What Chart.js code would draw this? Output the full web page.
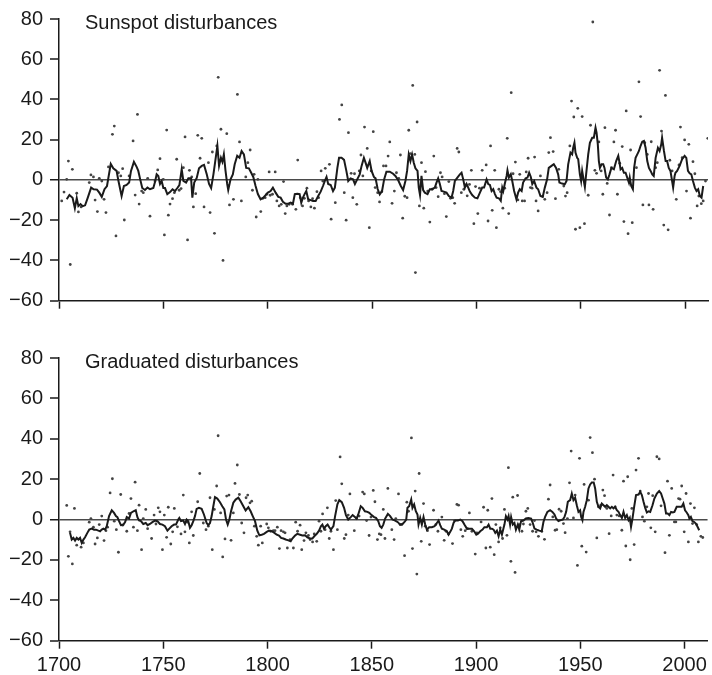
<!DOCTYPE html>
<html>
<head>
<meta charset="utf-8">
<script src="https://cdn.jsdelivr.net/npm/chart.js@4.4.1/dist/chart.umd.min.js"></script>
<style>
  html, body { margin: 0; padding: 0; background: #fff; }
  #wrap { position: relative; width: 712px; height: 675px; }
  canvas { position: absolute; left: 0; }
  #topChart { top: 0; }
  #bottomChart { top: 330px; }
</style>
</head>
<body>
<div id="wrap">
  <canvas id="topChart" width="712" height="330"></canvas>
  <canvas id="bottomChart" width="712" height="345"></canvas>
</div>
<script>
// year ticks shared by both panels
const yearTicks = [1700, 1750, 1800, 1850, 1900, 1950, 2000];
const valueTicks = [-60, -40, -20, 0, 20, 40, 60, 80];

// sunspot disturbances: yearly values [year, value]
const sunspotDots = [
  [1701.3,-10.4],[1702.4,-6],[1703.7,0.3],[1704.5,9.4],[1705.4,-42],[1706.4,5.3],[1708.5,-6.6],[1709.3,-15.9],
  [1710.6,-13.4],[1714.5,-1.3],[1715.3,2.5],[1716.5,1.5],[1717.3,-10],[1718.4,-15.7],[1719.3,0.8],[1720.5,-0.5],
  [1721.6,-9.6],[1722.5,-16.2],[1723.7,6.5],[1725.6,22.7],[1726.5,26.8],[1727.3,-27.8],[1728.5,3.6],[1729.6,2],
  [1730.5,5.6],[1731.3,-19.9],[1733.6,2],[1735.5,19.4],[1736.5,-7.5],[1737.6,32.6],[1738.4,-12],[1739.6,-5.5],
  [1740.4,-6.3],[1742.5,0.8],[1743.6,-18],[1746,-0.5],[1747.3,5],[1748.4,10.6],[1750,0.3],[1750.5,-27.3],
  [1751.6,24.8],[1752.4,-17.5],[1753.2,-12],[1754.4,-9.3],[1755.3,-6.3],[1756.4,10.3],[1757.6,-5.1],[1758.5,-4.3],
  [1759.6,6.1],[1760.4,21.4],[1761.6,-29.8],[1762.5,4.8],[1763.6,1.5],[1764.4,-13.4],[1765.5,-6.8],[1766.5,22.2],
  [1767.6,10.8],[1768.4,20.7],[1769.5,-13.4],[1771.6,8.6],[1772.4,-16.2],[1773.5,13.9],[1774.5,-26.5],[1775.6,16.9],
  [1776.3,51],[1777.6,25.2],[1778.6,-40],[1780.4,23],[1781.7,-12.4],[1783.6,-9.6],[1785.5,42.5],[1786.5,18.9],
  [1787.4,-10.4],[1789.5,1.5],[1790.5,8.6],[1791.6,14.9],[1792.7,-5.1],[1793.5,2.8],[1794.5,-18.4],[1795.3,0.3],
  [1796.7,-15.7],[1797.7,-9.1],[1798.8,-8.8],[1799.6,-7.1],[1800.7,4],[1801.2,-7.6],[1802.3,-7.1],[1803.6,4],
  [1804.4,-10.4],[1805.5,-12.9],[1806.5,-12.1],[1807.6,-0.8],[1808.4,-16.7],[1809.2,-12.9],[1810.3,-12.1],[1811.9,-12.1],
  [1813.5,-14.6],[1814.4,9.9],[1815.6,-8.8],[1816.7,-12.9],[1817.6,-9.1],[1818.8,-4.1],[1819.6,-10.4],[1820.7,-13.4],
  [1821.5,-9.3],[1822.4,-14],[1823.6,-5.8],[1824.4,-8.8],[1825.6,4.5],[1826.4,-0.5],[1827.6,5.8],[1829.6,7.8],
  [1830.4,-19.5],[1832.4,-11.3],[1834.4,30.1],[1835.5,37.3],[1836.7,-6.3],[1837.6,-20],[1838.7,23.5],[1840,3.3],
  [1840.8,-8.8],[1841.6,3.1],[1842.7,-12.1],[1843.9,4.5],[1844.7,12.4],[1845.6,2],[1846.4,26.3],[1847.7,15.7],
  [1848.7,-23.7],[1849.6,4.5],[1850.6,24],[1851.5,-3.8],[1852.7,-6.3],[1853.6,-10.9],[1854.7,-5.8],[1855.5,7],
  [1856.7,7],[1857.7,11.9],[1858.5,18.9],[1859.6,-11.6],[1860.7,-5.5],[1861.7,3.6],[1862.8,0.8],[1863.6,12.4],
  [1864.7,-19],[1865.7,-8.1],[1866.8,-8.8],[1867.6,24.7],[1868.4,13.1],[1869.5,47],[1870.5,12.7],[1870.8,-46],
  [1871.6,28.8],[1872.7,-12.9],[1873.7,8.6],[1874.8,-14],[1875.6,4.1],[1876.7,-5.5],[1877.7,-20.9],[1878.8,-4.6],
  [1879.6,11.9],[1880.7,-3.8],[1881.7,-8.3],[1882.8,3.6],[1883.6,1.5],[1884.7,-6.8],[1885.6,-18.2],[1886.8,-0.8],
  [1887.6,-9.1],[1888.7,-8.8],[1889.6,-11.6],[1890.8,15.7],[1891.6,13.9],[1892.8,-6.3],[1894,-4.6],[1894.8,-2.5],
  [1895.6,-7.9],[1896.7,-2.2],[1897.6,4.8],[1898.8,-21.7],[1899.6,-3.3],[1900.7,-16.7],[1901.5,-4.1],[1902.8,4.8],
  [1904.7,7.5],[1905.6,-20.4],[1906.8,16.9],[1907.6,-15.1],[1908.8,4.8],[1909.6,-23.7],[1910.8,-4.6],[1911.6,-5.8],
  [1912.7,-14],[1913.6,-4.1],[1914.8,20.7],[1915.5,-16.7],[1916.7,43.4],[1917.6,3.1],[1918.7,8.9],[1919.9,-9.9],
  [1920.8,2.8],[1922,-10.4],[1923.1,-10.4],[1923.9,4],[1924.8,10.8],[1925.9,-3.8],[1926.7,-4.1],[1927.9,11.4],
  [1928.6,-10.4],[1929.6,-15.4],[1930.7,2],[1931.8,-8],[1932.8,-9.6],[1933.9,-6.3],[1934.7,13.6],[1935.5,21],
  [1936.8,14.1],[1937.9,-9.3],[1939.5,5.3],[1941.9,-3],[1942.7,-8],[1943.5,-6.3],[1944.8,16.9],[1945.6,39.2],
  [1946.7,31.3],[1947.5,-24.5],[1948.6,35.6],[1949.6,-23.7],[1950.7,31.5],[1951.8,-21.7],[1953.6,-7.6],[1954.7,27.2],
  [1955.8,78.5],[1956.8,4.8],[1957.6,3.3],[1958.7,18.9],[1959.8,4.5],[1960.6,-7.1],[1961.6,26],[1962.7,-1.7],
  [1963.8,-17.4],[1964.8,6.1],[1965.9,18.9],[1966.7,24.7],[1967.6,-7.1],[1968.7,8.3],[1969.9,16.6],[1970.7,-20.7],
  [1971.8,34.3],[1972.7,-26.7],[1973.9,14.9],[1974.7,-21.2],[1976.7,6.1],[1977.9,48.8],[1978.7,31.5],[1979.8,-12.4],
  [1980.7,18.5],[1981.9,12.7],[1982.7,-12.4],[1983.8,19],[1984.7,-14.6],[1985.9,6.1],[1986.7,8.6],[1987.8,54.5],
  [1988.7,24.3],[1989.8,-22.4],[1990.6,42],[1991.9,-24.8],[1992.7,9.8],[1993.8,4.5],[1995.8,-9.6],[1997.1,7.5],
  [1997.8,26.3],[1998.6,11.1],[1999.8,19.9],[2000.7,-5.5],[2001.8,17.7],[2002.6,-19],[2003.8,9.1],[2004.7,3.1],
  [2005.8,-12.9],[2006.6,-8],[2007.8,-11.8],[2008.7,-10.4],[2009.8,-0.5],[2010.9,20.7]
];

// sunspot disturbances: smoothed curve
const sunspotSmooth = [
  [1703.7,-9.6],[1705,-7.5],[1706.5,-8.8],[1707.6,-14],[1708.5,-9],[1709.3,-13],[1710.3,-12],[1711.4,-13],
  [1712.5,-12.6],[1713.8,-8.8],[1715.4,-3.8],[1716.6,-4.6],[1718.2,-4.8],[1719.3,-6.3],[1720.5,-8.4],[1721.8,-4.6],
  [1723,-3],[1724.8,8],[1726,5.8],[1727.6,4.5],[1728.4,0],[1730,-8],[1731.1,-3],[1732.4,-2.5],
  [1733.6,-1.3],[1734.5,4.5],[1735.9,9],[1737.2,6.5],[1738,4.5],[1738.8,0.8],[1739.9,-4],[1741.2,-5],
  [1742.4,-3.8],[1743.6,-4.6],[1745.2,-4],[1746,-1],[1746.8,2.8],[1747.6,2],[1748.4,-2],[1749.2,-0.5],
  [1750,-4],[1750.8,-4],[1751.9,-7],[1753.2,-6],[1754.4,-4.6],[1755.6,-5.5],[1756.7,-4],[1757.7,-2.5],
  [1758.8,5.3],[1759.6,-0.5],[1760.9,-1.3],[1762,0.8],[1763.3,0.8],[1763.9,-8.8],[1764.8,-1.3],[1766,1],
  [1767.1,5.8],[1768.4,7],[1769.5,7.5],[1770.8,2.8],[1771.9,-2],[1772.9,-4],[1774,2.8],[1775.1,11],
  [1775.9,17],[1776.7,7],[1777.6,11],[1778.3,9],[1779,12.7],[1779.8,4.5],[1780.6,-2],[1781.1,-5],
  [1782.2,0.3],[1783.3,2.8],[1784.2,7.8],[1785.4,12],[1786.5,11],[1787.5,14.4],[1788.6,12.7],[1789.7,6],
  [1791,5.8],[1792.1,3.6],[1793.1,1.5],[1794.2,-3],[1795.3,-7],[1796.6,-9.6],[1797.9,-8.8],[1799,-7.5],
  [1800.1,-6.3],[1801.4,-5.5],[1802.5,-3.8],[1803.8,-6.3],[1805.1,-8.4],[1806.2,-8.8],[1807.3,-10.8],[1808.6,-11.8],
  [1809.9,-11.8],[1811,-11.3],[1812.1,-11.8],[1813,-7],[1814.2,-6.8],[1815.3,-7],[1816.1,-11.3],[1816.9,-8.8],
  [1817.8,-6.8],[1818.5,-5.5],[1819.4,-9.6],[1820.6,-10],[1821.7,-10.4],[1823,-10.4],[1824.2,-8],[1825.4,-5.8],
  [1826.5,-3],[1827.4,-0.5],[1828.2,1.5],[1829,-2],[1830.2,-2.5],[1831.3,-5.5],[1832.2,-3.8],[1833.4,6],
  [1834.2,11],[1835.4,11],[1836.6,10],[1837.7,4.5],[1838.6,-0.5],[1839.7,0.8],[1840.9,0.3],[1841.8,-2],
  [1842.9,0.3],[1844.1,2.8],[1845,7],[1846.1,11],[1846.9,8.6],[1847.7,6],[1848.9,9.4],[1849.8,4.5],
  [1850.9,1.5],[1851.7,0.8],[1852.7,-4.5],[1853.7,-7.2],[1854.8,-5.5],[1855.8,0.3],[1856.9,4.1],[1858.5,4.1],
  [1860.1,3.1],[1861.2,2],[1862.5,0],[1863.8,-3],[1864.9,-5],[1866,-0.5],[1866.8,4.5],[1867.6,12.7],
  [1868.4,9.4],[1869.2,12.7],[1870,8.6],[1870.8,5.8],[1871.8,4.5],[1872.4,-3.8],[1873,-7.5],[1873.7,2],
  [1874.5,-5],[1875.3,-6.3],[1876.6,-7],[1877.7,-4.6],[1878.8,-4.6],[1880.1,-3.8],[1880.9,-1.3],[1881.7,0.8],
  [1882.5,-2],[1883.3,-5.5],[1884.4,-5.8],[1885.7,-6.3],[1886.8,-8],[1888.1,-8.8],[1888.9,-5.5],[1889.7,-0.5],
  [1890.9,1.2],[1892.1,2.8],[1892.9,3.6],[1893.7,0.3],[1894.5,-3.8],[1895.3,-2],[1896.1,-3.8],[1896.9,-5.8],
  [1898,-7.5],[1899.3,-8.8],[1900.5,-9.1],[1901.7,-6.3],[1902.8,-3.8],[1903.7,-3.8],[1904.9,0.3],[1905.7,-2],
  [1906.5,-2.5],[1907.3,-5.5],[1908.1,-4.6],[1908.9,-7],[1909.7,-8.8],[1910.8,-9.1],[1911.7,-10.4],[1912.4,-3.8],
  [1912.9,-5.5],[1913.6,-2],[1914.5,2],[1914.9,4.8],[1915.6,1.2],[1916.5,2.8],[1917.2,-0.5],[1918.1,-5.5],
  [1919.2,-9.6],[1920,-6.3],[1920.8,-4.6],[1921.7,-5.5],[1922.4,-1.3],[1923.6,0.8],[1924.5,1.2],[1925.3,3.6],
  [1926.1,1.5],[1926.8,-2],[1927.7,-0.5],[1928.8,-3.8],[1929.6,-4.6],[1930.7,-8],[1931.8,-8.4],[1932.8,-3.8],
  [1933.9,0.3],[1934.7,6],[1936,7],[1937.1,7.8],[1938.2,6],[1939.2,2.8],[1939.8,-1.3],[1941.1,-1.8],
  [1942.4,-2.1],[1943.2,-0.5],[1944,7.8],[1945.1,13.6],[1945.9,12.7],[1946.4,16],[1947,18.5],[1947.5,13.6],
  [1948.3,11],[1948.8,10.3],[1949.6,2.8],[1950.2,-0.5],[1950.7,4.5],[1951.5,-0.5],[1952,-3.5],[1952.6,2.8],
  [1953.6,12.7],[1954.4,18.5],[1955.5,21],[1956.3,21],[1957.1,26],[1957.6,23.5],[1958.2,17.7],[1958.7,9.4],
  [1959.2,6],[1960,7.8],[1960.8,7.8],[1961.4,6],[1962.2,1.2],[1963,0.3],[1963.8,2.8],[1964.7,6],
  [1965.9,5.3],[1967,9.4],[1968,12],[1968.6,8.6],[1969.1,5.3],[1969.9,6],[1970.7,3.6],[1971.5,3.6],
  [1972.3,1.2],[1973.1,-1.3],[1973.5,1.2],[1974.2,-3],[1975,-4.6],[1975.6,6],[1976.3,11],[1977.1,12.7],
  [1977.9,14.4],[1978.7,17],[1979.5,19],[1980.3,19.4],[1981.1,16],[1981.9,9.4],[1982.7,6],[1983.5,4.5],
  [1984.3,2.8],[1985,2],[1985.9,11],[1987,16],[1987.8,14.4],[1988.6,17.7],[1989,21],[1989.9,14.4],
  [1990.7,9.4],[1991.4,9.4],[1992.2,6],[1993,4.5],[1993.8,-0.5],[1994.3,-3.8],[1995,2],[1995.4,3.6],
  [1996.2,4.5],[1997.4,7],[1998.6,10.3],[1999.8,12],[2000.6,11],[2001.4,4.5],[2002.2,3.3],[2003,2.8],
  [2003.8,-0.5],[2004.7,-3.8],[2005.5,-5.5],[2006.3,-4.6],[2007.1,-8],[2007.9,-8.8],[2008.7,-3]
];

// graduated disturbances: yearly values [year, value]
const graduatedDots = [
  [1703.7,7],[1704.5,-18.2],[1705.3,-6.1],[1706.4,-22],[1707.4,5.5],[1708.5,-12.7],[1710.6,-13.7],[1711.7,-11.6],
  [1714.5,-1.3],[1715.3,0.5],[1716.5,-3.8],[1717.3,-12.1],[1718.4,-9.1],[1719.3,-2.5],[1720.5,1.7],[1721.6,-10.4],
  [1722.5,-5.5],[1723.3,-3.8],[1724.5,13.2],[1725.6,20.2],[1726.5,-0.8],[1727.5,-5],[1728.5,-16.2],[1729.6,12.4],
  [1730.5,-2.8],[1732.5,-5.8],[1733.6,3],[1734.5,10.4],[1735.7,-3.8],[1736.5,18.5],[1737.6,-5.5],[1738.4,7.1],
  [1739.6,-14.9],[1740.4,0.5],[1741.6,5],[1742.5,-4.5],[1744.4,-9.4],[1745.6,2.2],[1746.5,-2.2],[1747.6,5.8],
  [1748.4,3.8],[1749.6,-14.9],[1750.5,2.2],[1751.6,-8.8],[1752.4,6.1],[1753.6,-12.1],[1754.5,-6.1],[1755.3,5.5],
  [1756.8,-3.6],[1758.5,-7.1],[1759.6,12.1],[1760.4,-6.1],[1761.6,-1.3],[1762.5,-11.6],[1763.6,3.8],[1764.4,-7.9],
  [1766.5,8.8],[1767.5,22.8],[1769.2,-1.7],[1770.5,-5],[1771.6,-3.3],[1772.4,10.8],[1773.5,-14.9],[1774.5,5],
  [1775.6,16.6],[1776.3,41.5],[1777.5,3.3],[1778.5,-18.5],[1779.6,-9.6],[1780.4,11.6],[1781.5,12.1],[1782.5,-10.3],
  [1783.6,3.3],[1784.4,17.9],[1785.5,27],[1786.5,12.4],[1787.6,-1.7],[1788.7,-6.6],[1789.7,10.8],[1790.5,12.1],
  [1791.6,8.3],[1792.4,9.1],[1793.7,-3.3],[1794.8,-8.3],[1795.6,-12.7],[1796.7,-3.3],[1797.5,-11.6],[1799.6,-2.2],
  [1800.4,-4.1],[1801.5,-5.8],[1802.8,-5.5],[1803.6,-5.5],[1804.7,-3.8],[1805.7,-14.4],[1806.5,-5.5],[1807.6,-6.1],
  [1808.4,-6.6],[1809.5,-14.1],[1810.8,-9.9],[1812.4,-14.1],[1813.5,-1.3],[1814.4,-5.8],[1815.6,-2.8],[1816.4,-14.9],
  [1817.5,-10.4],[1818.4,-6.6],[1819.6,-7.9],[1820.4,-9.9],[1821.6,-11.1],[1822.4,-7.1],[1823.6,-10.8],[1824.7,-0.8],
  [1825.6,-5.8],[1826.4,2.8],[1827.6,-5],[1828.7,5.8],[1829.6,-9.4],[1830.4,-5.8],[1831.6,-14.9],[1832.7,9.4],
  [1833.5,-5],[1834.8,31],[1835.6,17.7],[1836.8,-9.4],[1837.6,-7.5],[1838.7,2.2],[1839.5,12.7],[1841.6,-5.5],
  [1842.7,0.5],[1843.9,1.7],[1845.6,13.6],[1846.4,12.7],[1847.5,-0.5],[1848.7,-7.9],[1849.6,1.2],[1850.7,14.4],
  [1851.5,8.8],[1852.7,-9.9],[1853.6,-7.1],[1854.4,-7.5],[1855.5,5],[1856.3,-9.4],[1857.7,15.4],[1859.6,-5],
  [1860.7,-9.9],[1861.5,0.5],[1862.8,12.7],[1863.6,-2.5],[1864.4,-2.5],[1865.7,-17.9],[1866.8,8.6],[1867.6,4.1],
  [1869,40.4],[1869.5,-14.4],[1870.8,14.1],[1871.6,-27],[1872.7,22.8],[1873.7,-10.8],[1874.8,7.9],[1875.6,-3.3],
  [1876.7,-5.5],[1877.7,-12.4],[1879.6,4.6],[1880.7,-2.5],[1881.7,-5.8],[1883.6,1.2],[1884.7,-10.3],[1885.6,-5.8],
  [1886.8,-7.1],[1888.7,-11.9],[1889.6,-0.5],[1890.8,7.5],[1891.6,7.1],[1892.7,-5],[1893.6,-8.3],[1894.8,-5.5],
  [1895.9,-4.5],[1896.8,3.3],[1898,-5.8],[1899.6,-17.1],[1900.4,-6.6],[1902.4,-1.2],[1903.6,6.1],[1904.7,-14.1],
  [1905.6,4.6],[1906.8,-13.7],[1907.6,10.4],[1908.7,-17.4],[1909.5,-2.5],[1910.8,-11.1],[1911.6,-4.1],[1912.7,-9.4],
  [1913.6,5],[1914.8,-7.8],[1915.5,25.7],[1916.7,-20.7],[1917.6,11.1],[1918.7,-26.2],[1919.9,11.9],[1920.7,-2.5],
  [1922,-5.8],[1922.7,-2.2],[1923.9,4.1],[1924.8,5.5],[1925.9,-2.5],[1927.1,-5.8],[1928,-0.5],[1928.8,-6.1],
  [1929.9,-8.3],[1931.5,-5.8],[1932.8,-9.8],[1934.7,10.1],[1935.5,17.1],[1936.8,1.3],[1937.9,-5.3],[1938.7,-5],
  [1939.8,5.1],[1940.8,4.1],[1941.9,-2],[1942.7,-6.5],[1943.8,0.5],[1944.8,18.2],[1945.6,33.9],[1946.7,0.8],
  [1947.5,12.1],[1948.6,-22.7],[1949.6,30.3],[1950.7,-13.2],[1951.8,17.4],[1952.8,-16.1],[1953.9,9.6],[1954.7,40.6],
  [1955.8,33.1],[1956.8,20],[1957.9,-9.1],[1958.7,6.3],[1959.8,7.1],[1960.8,14.6],[1961.6,11.8],[1962.7,5.5],
  [1963.8,-7],[1964.8,1.8],[1965.7,22],[1966.7,6.3],[1967.5,2.2],[1968.6,1.8],[1969.9,-5.3],[1970.7,19],
  [1971.8,-13.1],[1972.7,21.2],[1973.9,-19.9],[1974.7,5.5],[1975.8,-12.4],[1976.7,24.5],[1977.9,30.3],[1978.7,14.1],
  [1979.8,1.3],[1980.7,-0.8],[1981.9,6.3],[1982.7,12.9],[1983.8,-4.1],[1984.7,11.8],[1985.9,-6.1],[1986.7,31.1],
  [1987.8,30],[1988.7,6.8],[1990.6,-16.4],[1991.8,19],[1992.7,-7.8],[1993.8,15.4],[1995.1,-1.2],[1995.8,-1.2],
  [1997.1,10.4],[1997.8,10.1],[1998.6,16.6],[1999.8,-6.1],[2000.7,12.9],[2001.8,-11.1],[2002.8,7.9],[2003.8,-2],
  [2004.7,5.8],[2005.8,-2.5],[2006.6,-11.1],[2007.8,-8.3],[2008.7,-8.9]
];

// graduated disturbances: smoothed curve
const graduatedSmooth = [
  [1705.3,-6.6],[1706.1,-9.9],[1706.9,-9.1],[1707.7,-10.4],[1708.5,-9.1],[1709.3,-9.9],[1710.1,-9.1],[1710.9,-11.6],
  [1711.7,-9.9],[1712.5,-8.8],[1713.6,-6.6],[1714.5,-5],[1715.7,-4.5],[1716.8,-5],[1717.7,-5],[1718.9,-5.5],
  [1719.7,-5.8],[1720.5,-5],[1721.3,-4.5],[1722.1,-5],[1722.9,-3.3],[1724,1.7],[1725.3,4.6],[1726.4,3.3],
  [1727.3,1.7],[1728,1.2],[1728.8,-0.8],[1729.7,-2.8],[1730.9,-2.5],[1731.7,-1.3],[1732.5,1.2],[1733.6,0.5],
  [1734.5,3.3],[1735.7,4.1],[1736.8,4.6],[1737.6,1.2],[1738.4,-0.5],[1739.3,-0.8],[1740.4,-2.2],[1741.6,-1.7],
  [1742.5,-2.8],[1743.6,-2.2],[1744.8,-1.3],[1746,-0.5],[1747.2,-0.8],[1748.4,-2.2],[1749.6,-2.5],[1750.8,-3.3],
  [1752,-5.5],[1752.9,-4.5],[1754,-3.3],[1755.2,-2.5],[1756.1,-2.5],[1757.2,0],[1757.7,0.8],[1758.5,-0.8],
  [1759.6,-0.5],[1760.4,-2.2],[1761.2,0],[1762,-0.8],[1762.8,-4.1],[1763.6,-2.8],[1764.4,-0.8],[1765.2,1.7],
  [1766,5.3],[1767.1,5.8],[1768.4,5.3],[1769.5,2.5],[1770.8,-1.7],[1771.6,-2.8],[1772.4,-1.7],[1773.2,1.7],
  [1774,6.6],[1774.8,11.1],[1775.9,10.4],[1777.2,8.6],[1778.3,6.6],[1779.3,5],[1780.1,0],[1780.9,-2.5],
  [1781.7,0],[1782.5,4.1],[1783.6,8.3],[1784.7,9.9],[1786,10.8],[1787.1,9.1],[1788.4,6.6],[1789.5,4.5],
  [1790.8,6.1],[1791.9,4.1],[1792.9,1.7],[1794,-0.8],[1795.1,-5.5],[1796.1,-7.8],[1797.2,-7.5],[1798.3,-7.1],
  [1799.6,-6.1],[1800.7,-5.5],[1802,-5.8],[1803.3,-6.6],[1804.4,-7.5],[1805.5,-7.9],[1806.5,-9.1],[1807.6,-9.4],
  [1808.7,-9.9],[1810,-10.3],[1811.1,-10.8],[1811.9,-9.4],[1813.2,-7.9],[1814.3,-7.1],[1815.6,-7.5],[1816.7,-7.9],
  [1818,-7.8],[1819.1,-8.8],[1820.4,-9.4],[1821.5,-9.4],[1822.4,-8.3],[1823.6,-7.1],[1824.7,-5.5],[1825.6,-3.3],
  [1826.3,-2.5],[1827.1,-4.5],[1827.9,-3.3],[1828.8,-2.5],[1829.6,-3.8],[1830.4,-5],[1831.6,-3.3],[1832.4,1.7],
  [1833.5,7.5],[1834.4,9.6],[1835.6,8.6],[1836.7,5.8],[1837.6,2.2],[1838.7,0],[1839.9,1.2],[1840.8,2.2],
  [1841.9,1.2],[1842.7,0.5],[1843.5,2.5],[1844.7,6.6],[1845.6,5.8],[1846.7,4.1],[1847.9,3.8],[1848.8,3.3],
  [1849.9,2.2],[1851.1,1.2],[1852,0.8],[1853.1,-0.8],[1853.9,-3.3],[1854.7,-4.1],[1855.5,-2.5],[1856.4,0.5],
  [1857.7,2.8],[1858.8,1.7],[1859.9,0],[1861.2,-0.5],[1862.5,-1.3],[1863.6,-2.5],[1864.7,-2.2],[1865.7,-1.2],
  [1866.5,0],[1867.1,5.8],[1867.9,6.6],[1868.9,9.9],[1869.5,5.8],[1870.3,7.5],[1871.1,4.1],[1871.9,2.5],
  [1872.4,-2.5],[1873.2,0.8],[1874,-2.5],[1874.8,1.2],[1875.6,-2.5],[1876.4,-5],[1877.5,-3.8],[1878.8,-3.8],
  [1880.1,-3.3],[1881.2,-1.7],[1882,-0.5],[1882.8,-2.8],[1883.6,-4.5],[1884.7,-5],[1886,-5.8],[1886.8,-7.5],
  [1887.6,-6.1],[1888.4,-4.5],[1889.2,-1.7],[1890,-0.5],[1891.3,-0.5],[1892.4,0],[1893.5,-0.8],[1894.4,-2.5],
  [1895.6,-4.5],[1896.7,-4.5],[1898,-4.5],[1899.1,-5.8],[1900.1,-7.5],[1900.8,-7.1],[1902,-5.8],[1903.1,-5],
  [1904,-3.8],[1905.2,-3.8],[1906,-2.5],[1906.8,-4.5],[1907.6,-4.5],[1908.4,-5],[1909.2,-6.6],[1910,-5.5],
  [1910.8,-8.3],[1911.6,-5],[1912.4,-7.5],[1913.2,-4.1],[1913.6,-2.5],[1914.3,1.7],[1915.1,0],[1915.6,1.7],
  [1916.3,-2.5],[1916.8,1.2],[1917.6,-2.5],[1918.4,-1.7],[1919.1,-5],[1920,-2.5],[1920.7,-5],[1921.6,-0.8],
  [1922.7,-0.5],[1923.9,0.5],[1925.1,0.8],[1926.4,0.5],[1927.2,-1.7],[1928,-4.5],[1929.1,-5],[1930.3,-5.5],
  [1931.5,-5.8],[1932.3,-1.2],[1933.1,1.3],[1934.2,3.8],[1935.5,4.6],[1936.6,3.8],[1937.6,2.5],[1938.4,0.5],
  [1939.5,-0.8],[1940.6,-0.3],[1941.6,0],[1942.4,1.3],[1943.2,3.8],[1944,8.8],[1945.1,9.6],[1945.9,12.9],
  [1946.7,9.6],[1947.5,10.8],[1948.3,7.1],[1949.1,3.8],[1949.9,4.6],[1950.4,1.3],[1951,-0.3],[1951.5,3.8],
  [1952.3,6.3],[1953.1,9.6],[1953.9,15.4],[1954.7,17.4],[1955.5,18.4],[1956.4,18.4],[1957.1,15.4],[1957.9,8.8],
  [1958.7,6.3],[1959.5,5.5],[1960.3,7.9],[1961.1,7.1],[1961.9,6.3],[1962.7,7.1],[1963.5,6.3],[1964.3,5.5],
  [1965.1,6.3],[1965.9,5.5],[1966.7,6.3],[1967.5,4.6],[1968.3,3.8],[1969.1,2.2],[1969.9,0.8],[1970.7,3.8],
  [1971.5,0.8],[1972.3,2.2],[1973.1,-0.3],[1973.7,0.8],[1974.3,-3.6],[1975,0.5],[1975.8,6.3],[1976.7,12.1],
  [1977.9,12.4],[1978.7,13.7],[1979.5,12.1],[1980.3,8.8],[1981.1,5.8],[1981.9,3.5],[1982.7,4.1],[1983.5,3.8],
  [1984.6,7.1],[1985.5,10.4],[1986.7,12.9],[1987.8,14.1],[1988.7,12.9],[1989.5,10.4],[1990.3,7.9],[1991.1,3],
  [1991.9,3],[1992.7,2.2],[1993.5,3.8],[1994.3,3.5],[1995.1,3.8],[1996.2,6.3],[1997.4,6.3],[1998.6,6.3],
  [1999.4,7.9],[2000.2,4.6],[2001,3.5],[2001.8,2.2],[2002.3,0.5],[2003,1.3],[2003.8,-0.8],[2004.6,-1.2],
  [2005.4,-2],[2006.2,-3.6],[2007,-5.3]
];

const FONT = '"Liberation Sans", Arial, Helvetica, sans-serif';

// panel heading drawn inside the plot area, top-left
const panelTitle = {
    id: 'panelTitle',
    afterDraw(chart, args, opts) {
        const { ctx, chartArea } = chart;
        ctx.save();
        ctx.font = `20px ${FONT}`;
        ctx.fillStyle = '#1a1a1a';
        ctx.textBaseline = 'alphabetic';
        ctx.fillText(opts.text, chartArea.left + 26, chartArea.top + 10);
        ctx.restore();
    }
};

function toPoints(arr) {
    return arr.map(p => ({ x: p[0], y: p[1] }));
}

function minusLabel(v) {
    return v < 0 ? '\u2212' + Math.abs(v) : String(v);
}

function buildPanel(canvasId, title, smooth, dots, cfg) {
    const ctx = document.getElementById(canvasId).getContext('2d');
    return new Chart(ctx, {
        type: 'scatter',
        data: {
            datasets: [
                {
                    type: 'line',
                    data: toPoints(smooth),
                    borderColor: '#1a1a1a',
                    borderWidth: 2,
                    pointRadius: 0,
                    tension: 0,
                    fill: false
                },
                {
                    data: toPoints(dots),
                    backgroundColor: '#444',
                    borderWidth: 0,
                    pointRadius: 1.4
                }
            ]
        },
        options: {
            responsive: false,
            animation: false,
            events: [],
            layout: { padding: { top: cfg.padTop, right: 4, bottom: 0, left: 0 } },
            plugins: {
                legend: { display: false },
                tooltip: { enabled: false },
                panelTitle: { text: title }
            },
            scales: {
                x: {
                    type: 'linear',
                    min: 1700,
                    max: 2011,
                    afterBuildTicks: s => { s.ticks = yearTicks.map(v => ({ value: v })); },
                    afterFit: s => { s.height = cfg.xHeight; },
                    border: { color: '#1a1a1a', width: 1.5 },
                    grid: {
                        drawOnChartArea: false,
                        drawTicks: true,
                        tickLength: 8,
                        tickColor: '#1a1a1a',
                        tickWidth: 1.5
                    },
                    ticks: {
                        display: cfg.showYears,
                        color: '#1a1a1a',
                        padding: 5,
                        maxRotation: 0,
                        font: { family: FONT, size: 20 },
                        callback: v => String(v)
                    }
                },
                y: {
                    min: -60,
                    max: 80,
                    afterBuildTicks: s => { s.ticks = valueTicks.map(v => ({ value: v })); },
                    afterFit: s => { s.width = 59; },
                    border: { color: '#1a1a1a', width: 1.5 },
                    grid: {
                        color: c => (c.tick && c.tick.value === 0 ? '#4a4a4a' : 'rgba(0,0,0,0)'),
                        lineWidth: c => (c.tick && c.tick.value === 0 ? 1.5 : 0),
                        drawTicks: true,
                        tickLength: 9,
                        tickColor: '#1a1a1a',
                        tickWidth: 1.5
                    },
                    ticks: {
                        color: '#1a1a1a',
                        padding: 7,
                        font: { family: FONT, size: 20 },
                        callback: v => minusLabel(v)
                    }
                }
            }
        },
        plugins: [panelTitle]
    });
}

buildPanel('topChart', 'Sunspot disturbances', sunspotSmooth, sunspotDots,
    { padTop: 18, xHeight: 29.3, showYears: false });
buildPanel('bottomChart', 'Graduated disturbances', graduatedSmooth, graduatedDots,
    { padTop: 28, xHeight: 34.3, showYears: true });
</script>
</body>
</html>
